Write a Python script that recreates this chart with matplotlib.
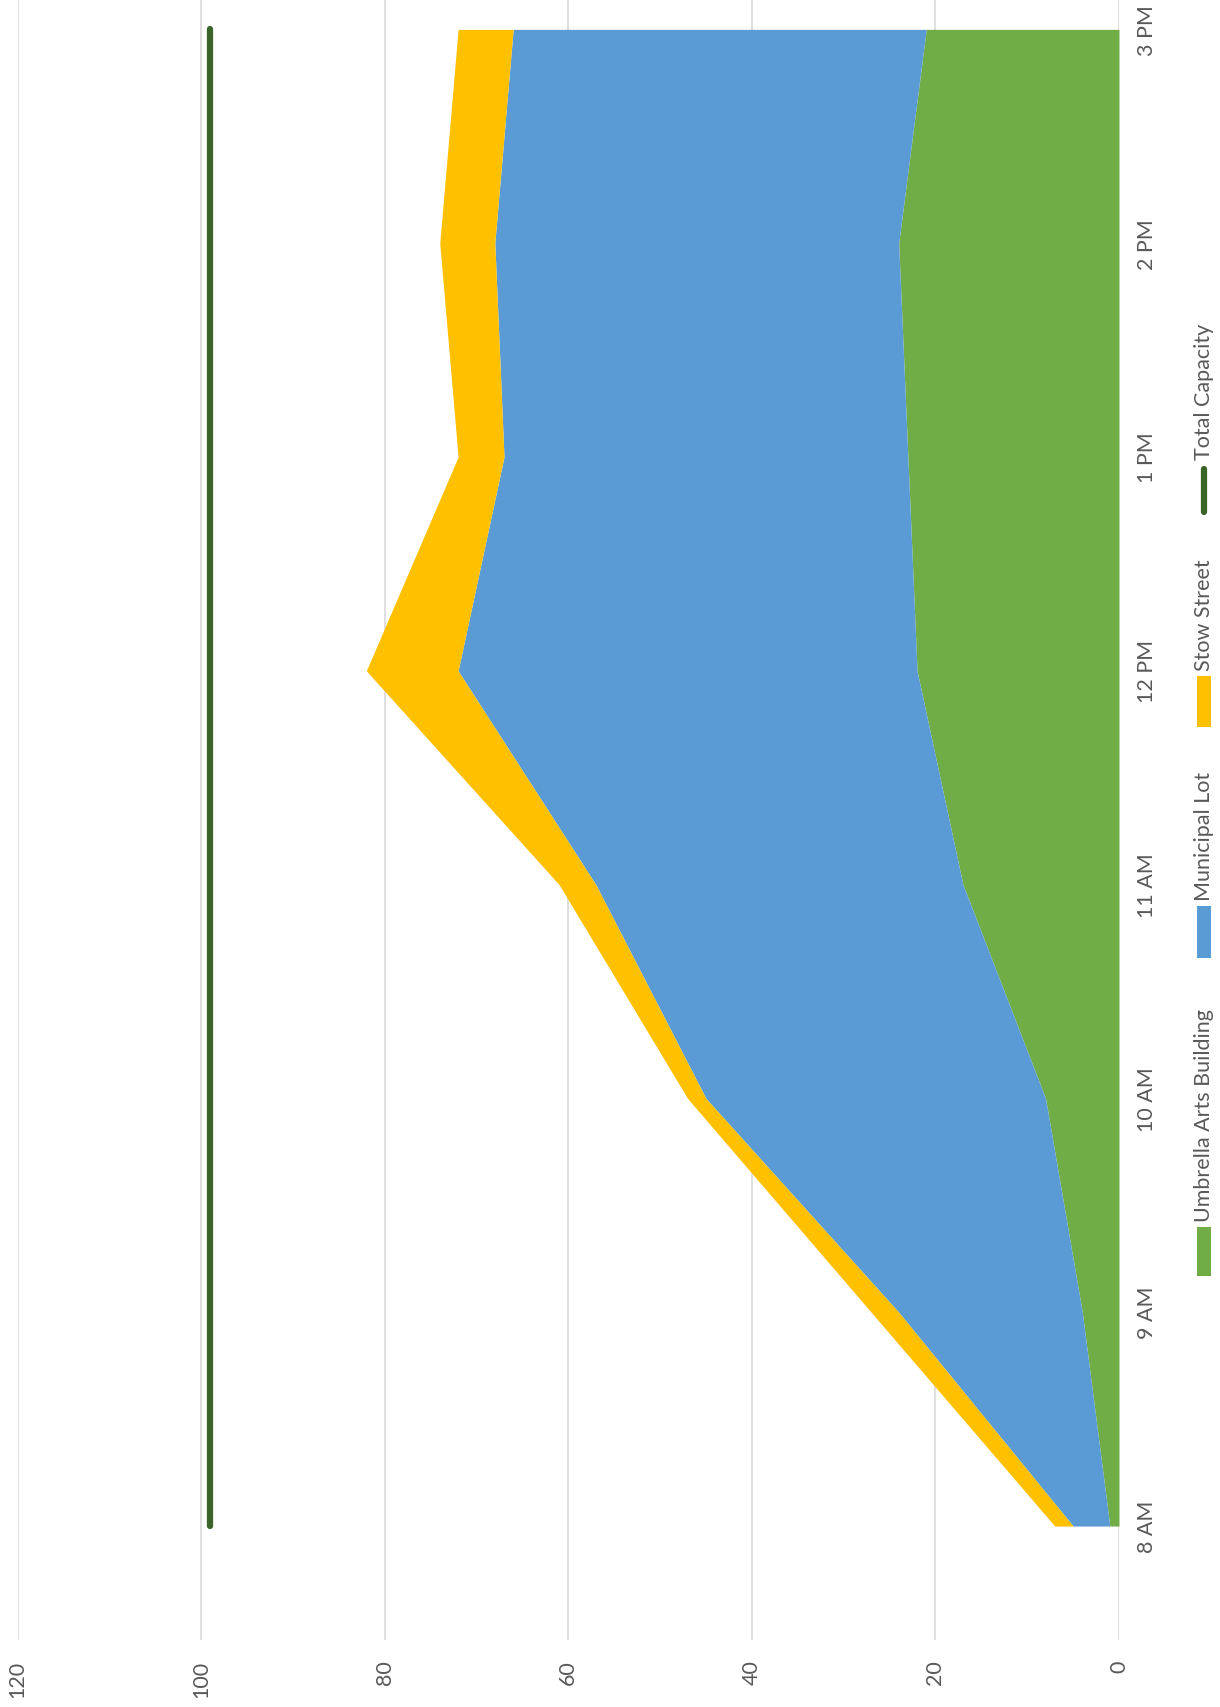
"""Parking occupancy by hour - stacked area, rotated layout."""
import matplotlib
matplotlib.use("Agg")
import matplotlib.pyplot as plt
from matplotlib.patches import Rectangle
from matplotlib.lines import Line2D

plt.rcParams["font.family"] = ["Lato", "DejaVu Sans"]

hours = ["8 AM", "9 AM", "10 AM", "11 AM", "12 PM", "1 PM", "2 PM", "3 PM"]
umbrella = [1, 4, 8, 17, 22, 23, 24, 21]
municipal = [4, 20, 37, 40, 50, 44, 44, 45]
stow = [2, 3, 2, 4, 10, 5, 6, 6]
capacity = [99, 99, 99, 99, 99, 99, 99, 99]
value_ticks = [0, 20, 40, 60, 80, 100, 120]
series_names = ["Umbrella Arts Building", "Municipal Lot", "Stow Street", "Total Capacity"]

GREEN = "#70AD47"
BLUE = "#5B9BD5"
GOLD = "#FFC000"
DARK = "#3B6428"
GRID = "#D9D9D9"
TEXT = "#595959"

W, H = 1220, 1708
fig = plt.figure(figsize=(W / 100, H / 100), dpi=100)
ax = fig.add_axes([17.5 / W, 1 - 1641 / H, (1119 - 17.5) / W, 1641 / H])

pos = list(range(len(hours)))
top1 = list(umbrella)
top2 = [a + b for a, b in zip(top1, municipal)]
top3 = [a + b for a, b in zip(top2, stow)]

ax.fill_betweenx(pos, 0, top1, color=GREEN, lw=0)
ax.fill_betweenx(pos, top1, top2, color=BLUE, lw=0)
ax.fill_betweenx(pos, top2, top3, color=GOLD, lw=0)
ax.plot(capacity, pos, color=DARK, lw=4.5, solid_capstyle="round")

ax.set_xlim(120, 0)
ax.set_ylim(-0.533, 7.142)
ax.set_xticks(value_ticks)
ax.set_xticklabels([str(v) for v in value_ticks], rotation=90)
ax.set_yticks(pos)
ax.set_yticklabels(hours, rotation=90, va="center")
ax.yaxis.tick_right()
ax.tick_params(length=0, labelsize=15.5, labelcolor=TEXT)
ax.tick_params(axis="x", pad=14)
ax.tick_params(axis="y", pad=13)
for s in ax.spines.values():
    s.set_visible(False)
ax.grid(axis="x", color=GRID, lw=1.2)
ax.set_axisbelow(True)


# legend drawn by hand so entries can be rotated like the rest of the chart
def fx(px):
    return px / W


def fy(py):
    return 1 - py / H


legend_x = 1204
marker_spans = [(1228, 1277), (907, 959), (677, 728), (466, 517)]
marker_colors = [GREEN, BLUE, GOLD, DARK]
for name, (y0, y1), c in zip(series_names, marker_spans, marker_colors):
    if name == "Total Capacity":
        fig.add_artist(Line2D([fx(legend_x), fx(legend_x)], [fy(y1 - 4), fy(y0 + 4)],
                              transform=fig.transFigure, color=c, lw=4.5,
                              solid_capstyle="round"))
    else:
        fig.add_artist(Rectangle((fx(legend_x - 7), fy(y1)), 14 / W, (y1 - y0) / H,
                                 transform=fig.transFigure, color=c, lw=0))
    fig.text(fx(legend_x), fy(y0 - 6), name, rotation=90, ha="center", va="bottom",
             fontsize=15.5, color=TEXT)

fig.savefig("out.png", dpi=100)
